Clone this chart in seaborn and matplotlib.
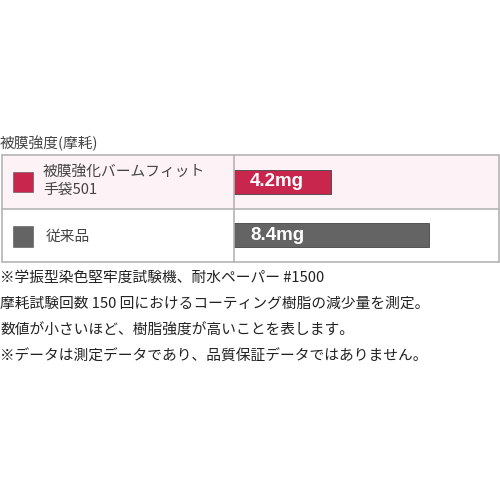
import matplotlib
matplotlib.use("Agg")
import matplotlib.pyplot as plt
from matplotlib.patches import Rectangle
from matplotlib.lines import Line2D
import seaborn as sns
import pandas as pd

title = "被膜強度(摩耗)"
categories = ["被膜強化バームフィット\n手袋501", "従来品"]
values = [4.2, 8.4]
value_labels = ["4.2mg", "8.4mg"]
colors = ["#c8264c", "#646464"]
row_bg = ["#fdf3f6", "#ffffff"]
notes = [
    "※学振型染色堅牢度試験機、耐水ペーパー #1500",
    "摩耗試験回数 150 回におけるコーティング樹脂の減少量を測定。",
    "数値が小さいほど、樹脂強度が高いことを表します。",
    "※データは測定データであり、品質保証データではありません。",
]

sns.set_theme(style="white")
plt.rcParams["font.family"] = ["Noto Sans CJK JP", "DejaVu Sans"]

W, H = 500, 500
fig = plt.figure(figsize=(5, 5), dpi=100)
fig.patch.set_facecolor("white")

def fx(px):
    return px / W

def fy(py):
    return 1 - py / H

# table geometry (pixels)
left, mid, right = 2, 233.5, 498.5
top, rowdiv, bottom = 155, 209, 262
row_edges = [top, rowdiv, bottom]

# row backgrounds
for i in range(2):
    fig.patches.append(Rectangle((fx(left), fy(row_edges[i + 1])),
                                 fx(right - left), (row_edges[i + 1] - row_edges[i]) / H,
                                 transform=fig.transFigure, facecolor=row_bg[i],
                                 edgecolor="none", zorder=-5))

# bar axes
ax = fig.add_axes([fx(234), fy(bottom), fx(right - 234), (bottom - top) / H])
ax.set_zorder(5)
df = pd.DataFrame({"cat": categories, "val": values})
sns.barplot(data=df, y="cat", x="val", hue="cat", palette=colors, legend=False,
            orient="h", width=0.45, saturation=1, ax=ax, edgecolor="#444444",
            linewidth=0.6)
ax.set_xlim(0, (right - 234) / 23.2)
ax.set_ylim(1.5, -0.5)
ax.patch.set_alpha(0)
ax.set_axis_off()
for i, (v, lab) in enumerate(zip(values, value_labels)):
    ax.text(0.7, i, lab, va="center", ha="left", color="white",
            fontsize=13.5, fontweight="bold", family=["Liberation Sans", "DejaVu Sans"])

# grid lines
lc = "#b4b4b4"
lw = 1.2
for y in row_edges:
    fig.add_artist(Line2D([fx(left), fx(right)], [fy(y), fy(y)], color=lc, lw=lw,
                          transform=fig.transFigure, zorder=6))
for x in [left, mid, right]:
    fig.add_artist(Line2D([fx(x), fx(x)], [fy(top), fy(bottom)], color=lc, lw=lw,
                          transform=fig.transFigure, zorder=6))

# category squares and labels
sq_y = [172, 226.5]
for i, cat in enumerate(categories):
    fig.patches.append(Rectangle((fx(13), fy(sq_y[i] + 20)), fx(20), 20 / H,
                                 transform=fig.transFigure, facecolor=colors[i],
                                 edgecolor="#555555", linewidth=0.4, zorder=3))
fig.text(fx(43), fy(181), categories[0], ha="left", va="center", fontsize=10.6,
         color="#444444", linespacing=1.3)
fig.text(fx(46), fy(236.5), categories[1], ha="left", va="center", fontsize=10.6,
         color="#444444")

# title
fig.text(fx(0), fy(143), title, ha="left", va="center", fontsize=10.6, color="#444444")

# notes
note_y = [278, 304, 331, 357]
for y, t in zip(note_y, notes):
    fig.text(fx(0), fy(y), t, ha="left", va="center", fontsize=10.6, color="#222222")

fig.savefig("out.png", dpi=100, facecolor="white")
